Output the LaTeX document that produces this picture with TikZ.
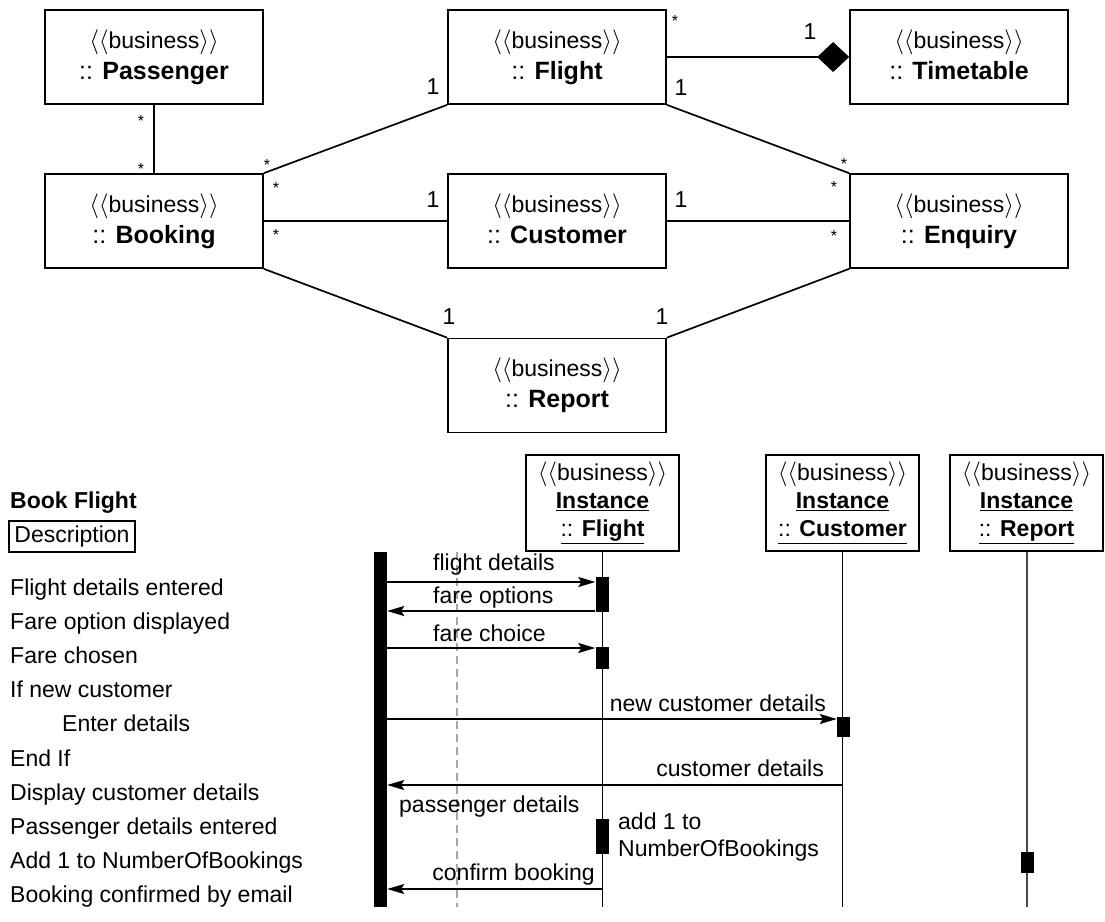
\documentclass[tikz,border=0pt]{standalone}
\usepackage{fontspec}
\setmainfont{Liberation Sans}
\usetikzlibrary{arrows.meta}
\newcommand\bizst{$\langle\langle$business$\rangle\rangle$}
\newcommand\cname[1]{\fontsize{25}{31}\selectfont :: \textbf{#1}\vphantom{g}}
\newcommand\iname[1]{\underline{:: \textbf{#1}\vphantom{g}}}
\begin{document}
\begin{tikzpicture}[x=1pt,y=-1pt,
  every node/.style={font=\fontsize{23}{28}\selectfont, inner sep=0pt},
  cls/.style={draw, line width=1.7pt, minimum width=218pt, minimum height=94pt, align=center, font=\fontsize{23}{31}\selectfont},
  inst/.style={draw, line width=1.7pt, minimum width=153pt, minimum height=96pt, align=center, font=\fontsize{23}{28}\selectfont},
  assoc/.style={line width=1.7pt},
  star/.style={font=\fontsize{16}{16}\selectfont, anchor=base},
  mult/.style={anchor=center},
  act/.style={fill=black, minimum width=13pt},
  msg/.style={line width=1.7pt, -{Stealth[length=17pt,width=10pt,inset=3pt]}},
  life/.style={line width=1.5pt},
  steptext/.style={anchor=base west}
]
\useasboundingbox (0,0) rectangle (1105,921);

% ---------- class diagram ----------
\node[cls] (pass)   at (154,57)    {\bizst\\\cname{Passenger}};
\node[cls] (flight) at (557,57)    {\bizst\\\cname{Flight}};
\node[cls] (time)   at (959,57)    {\bizst\\\cname{Timetable}};
\node[cls] (book)   at (154,221)   {\bizst\\\cname{Booking}};
\node[cls] (cust)   at (557,221)   {\bizst\\\cname{Customer}};
\node[cls] (enq)    at (959,221)   {\bizst\\\cname{Enquiry}};
\node[cls] (rep)    at (557,385.5) {\bizst\\\cname{Report}};

\draw[assoc] (pass.south) -- (book.north);
\draw[assoc] (book.north east) -- (flight.south west);
\draw[assoc] (book.east) -- (cust.west);
\draw[assoc] (flight.south east) -- (enq.north west);
\draw[assoc] (cust.east) -- (enq.west);
\draw[assoc] (book.south east) -- (rep.north west);
\draw[assoc] (enq.south west) -- (rep.north east);
\draw[assoc, -{Diamond[length=32pt,width=30pt]}] (flight.east) -- (time.west);

\node[star] (s1) at (141,126) {*};
\node[star] (s2) at (141,174) {*};
\node[star] (s3) at (267,170) {*};
\node[star] (s4) at (276,193) {*};
\node[star] (s5) at (276,240) {*};
\node[star] (s6) at (675,26)  {*};
\node[star] (s7) at (844,169) {*};
\node[star] (s8) at (834,192) {*};
\node[star] (s9) at (834,241) {*};

\node[mult] (o1) at (433,87)  {1};
\node[mult] (o2) at (433,200) {1};
\node[mult] (o3) at (681,88)  {1};
\node[mult] (o4) at (681,200) {1};
\node[mult] (o5) at (810,32)  {1};
\node[mult] (o6) at (449,317) {1};
\node[mult] (o7) at (662,317) {1};

% ---------- sequence diagram ----------
\node[inst] (iflight) at (602.5,503)  {\bizst\\\underline{\textbf{Instance}}\\\iname{Flight}};
\node[inst] (icust)   at (842.5,503)  {\bizst\\\underline{\textbf{Instance}}\\\iname{Customer}};
\node[inst] (irep)    at (1026.5,503) {\bizst\\\underline{\textbf{Instance}}\\\iname{Report}};

\coordinate (fend) at (602.5,907);
\coordinate (cend) at (842.5,907);
\coordinate (rend) at (1026.5,907);
\coordinate (dtop) at (457,552);
\coordinate (dbot) at (457,907);

\draw[black!35, line width=1.3pt, dash pattern=on 8pt off 5pt] (dtop) -- (dbot);
\draw[life] (iflight.south) -- (fend);
\draw[life] (icust.south) -- (cend);
\draw[life, black!70, line width=2pt] (irep.south) -- (rend);

\node[fill=black, minimum width=13pt, minimum height=355pt] (actor) at (380.5,729.5) {};

\node[act, minimum height=35pt] (a1) at (602,594.5) {};
\node[act, minimum height=22pt] (a2) at (602,658) {};
\node[act, minimum height=20pt] (a3) at (843.5,727) {};
\node[act, minimum height=35pt] (a4) at (602.5,836.5) {};
\node[act, minimum height=21pt] (a5) at (1027.5,862.5) {};

\coordinate (m1) at (0,582);
\coordinate (m2) at (0,611);
\coordinate (m3) at (0,648);
\coordinate (m4) at (0,719);
\coordinate (m5) at (0,785);
\coordinate (m6) at (0,889);

\draw[msg] (actor.east |- m1) -- (a1.west |- m1);
\draw[msg] (a1.west |- m2) -- (actor.east |- m2);
\draw[msg] (actor.east |- m3) -- (a2.west |- m3);
\draw[msg] (actor.east |- m4) -- (a3.west |- m4);
\draw[msg] (icust.south |- m5) -- (actor.east |- m5);
\draw[msg] (iflight.south |- m6) -- (actor.east |- m6);

\node[anchor=west] (l1) at (433,565) {flight details};
\node[anchor=west] (l2) at (433,598) {fare options};
\node[anchor=west] (l3) at (433,633) {fare choice};
\node[anchor=east] (l4) at (826,703) {new customer details};
\node[anchor=east] (l5) at (824,768) {customer details};
\node[anchor=west] (l6) at (399,807) {passenger details};
\node[anchor=west, align=left, font=\fontsize{23}{27}\selectfont] (l7) at (618,837) {add 1 to\\NumberOfBookings};
\node[anchor=east] (l8) at (595,875) {confirm booking};

% ---------- left description ----------
\node[anchor=base west, font=\bfseries\fontsize{23}{28}\selectfont] (title) at (10,508) {Book Flight};
\node[draw, line width=1.3pt, minimum width=126pt, minimum height=31pt] (desc) at (72,536.5) {Description};
\node[steptext] (t1)  at (10,595)   {Flight details entered};
\node[steptext] (t2)  at (10,629.2) {Fare option displayed};
\node[steptext] (t3)  at (10,663.4) {Fare chosen};
\node[steptext] (t4)  at (10,697.6) {If new customer};
\node[steptext] (t5)  at (62,731.8) {Enter details};
\node[steptext] (t6)  at (10,766)   {End If};
\node[steptext] (t7)  at (10,800.2) {Display customer details};
\node[steptext] (t8)  at (10,834.4) {Passenger details entered};
\node[steptext] (t9)  at (10,868.6) {Add 1 to NumberOfBookings};
\node[steptext] (t10) at (10,902.8) {Booking confirmed by email};
\end{tikzpicture}
\end{document}
